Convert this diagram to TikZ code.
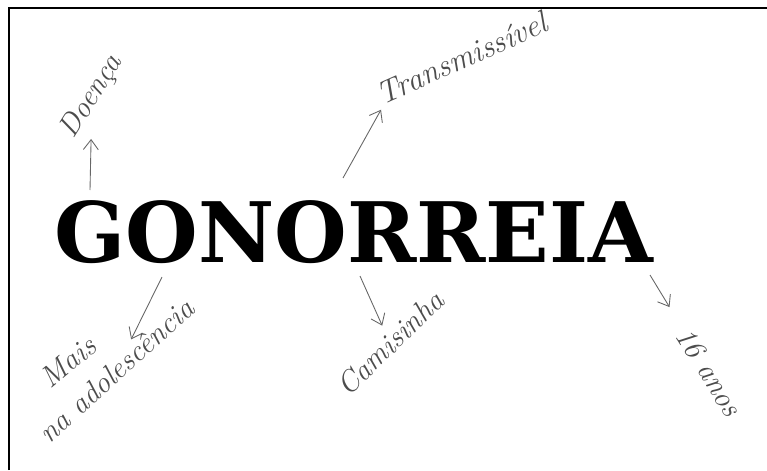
\documentclass[tikz,border=0pt]{standalone}
\usepackage{fontspec}
\usepackage{tikz}
\usetikzlibrary{arrows.meta,positioning}
\newfontfamily\slabfont{DejaVu Serif}

\begin{document}
\begin{tikzpicture}[
    x=0.02cm, y=-0.02cm,
    title/.style={font=\slabfont\bfseries\fontsize{47.5}{47.5}\selectfont, inner sep=0pt},
    note/.style={font=\itshape\fontsize{17}{17}\selectfont, text=black!70, inner sep=1pt},
    arrow/.style={-{Straight Barb[length=2mm, width=3mm]}, black!60, line width=0.5pt},
    frame/.style={line width=1.6pt}
  ]
    \useasboundingbox (0,0) rectangle (767,470);
    \draw[frame] (9,470) -- (9,8) -- (767,8);

    \node[title, anchor=base west] (gon) at (54,262) {GONORREIA};

    \node[note, rotate=58] (doenca) at (92,97) {Doença};
    \node[note, rotate=24, font=\itshape\fontsize{18}{18}\selectfont] (transm) at (462,58) {Transmissível};
    \node[note, rotate=40] (mais) at (68,362) {Mais};
    \node[note, rotate=42] (adol) at (116,370) {na adolescência};
    \node[note, rotate=44] (camis) at (390,343) {Camisinha};
    \node[note, rotate=-58] (anos) at (709,372) {16 anos};

    \coordinate (doenca-tail) at (90,190);
    \coordinate (transm-tail) at (343,178);
    \coordinate (adol-tail) at (162,277);
    \coordinate (camis-tail) at (360,276);
    \coordinate (anos-tail) at (650,275);

    \draw[arrow, shorten >=7pt] (doenca-tail) -- (doenca);
    \draw[arrow, shorten >=1pt] (transm-tail) -- (transm.south west);
    \draw[arrow] (adol-tail) -- (adol);
    \draw[arrow, shorten >=3pt] (camis-tail) -- (camis);
    \draw[arrow, shorten >=14pt] (anos-tail) -- (anos);
  \end{tikzpicture}
\end{document}
